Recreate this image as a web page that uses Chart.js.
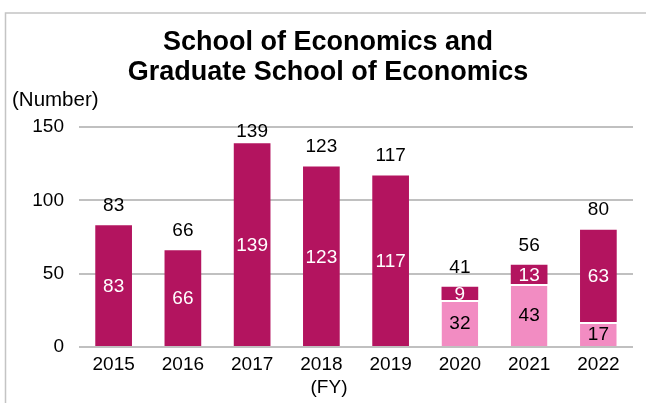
<!DOCTYPE html>
<html>
<head>
<meta charset="utf-8">
<script src="https://cdn.jsdelivr.net/npm/chart.js@4"></script>
<style>
  html, body { margin: 0; padding: 0; background: #ffffff; }
  #wrap { width: 646px; height: 403px; position: relative; }
</style>
</head>
<body>
<div id="wrap"><canvas id="c" width="646" height="403"></canvas></div>
<script>
// ---- data ----
const years = ['2015', '2016', '2017', '2018', '2019', '2020', '2021', '2022'];
const lowerSeries = [0, 0, 0, 0, 0, 32, 43, 17];      // light pink segment
const upperSeries = [83, 66, 139, 123, 117, 9, 13, 63]; // dark magenta segment
const yTicks = [0, 50, 100, 150];
const titleLines = ['School of Economics and', 'Graduate School of Economics'];
const yUnitLabel = '(Number)';
const xUnitLabel = '(FY)';

const FONT = '"Liberation Sans", Arial, Helvetica, sans-serif';
const DARK = '#B3145F';
const LIGHT = '#F28CC2';

const decorPlugin = {
  id: 'decor',
  beforeDraw(chart) {
    const ctx = chart.ctx;
    ctx.save();
    ctx.fillStyle = '#ffffff';
    ctx.fillRect(0, 0, chart.width, chart.height);
    ctx.strokeStyle = '#c4c4c4';
    ctx.lineWidth = 1.5;
    ctx.strokeRect(5.5, 13, 700, 500);
    ctx.restore();
  },
  afterDraw(chart) {
    const ctx = chart.ctx;
    ctx.save();
    ctx.fillStyle = '#000000';
    ctx.textAlign = 'center';
    ctx.textBaseline = 'alphabetic';
    ctx.font = 'bold 27px ' + FONT;
    ctx.fillText(titleLines[0], 328, 50);
    ctx.fillText(titleLines[1], 328, 80);
    ctx.font = '20.5px ' + FONT;
    ctx.textAlign = 'left';
    ctx.fillText(yUnitLabel, 12, 105.5);
    ctx.font = '19px ' + FONT;
    ctx.textAlign = 'center';
    ctx.textBaseline = 'middle';
    ctx.fillText(xUnitLabel, 329, 388);

    // data labels
    const lowMeta = chart.getDatasetMeta(0);
    const upMeta = chart.getDatasetMeta(1);
    const top = chart.chartArea.top;
    ctx.font = '19px ' + FONT;
    ctx.textBaseline = 'middle';
    for (let i = 0; i < years.length; i++) {
      const lo = lowMeta.data[i];
      const up = upMeta.data[i];
      if (lowerSeries[i] > 0) {
        ctx.fillStyle = '#000000';
        ctx.fillText(String(lowerSeries[i]), lo.x, (lo.y + lo.base) / 2 + 1);
      }
      if (upperSeries[i] > 0) {
        ctx.fillStyle = '#ffffff';
        ctx.fillText(String(upperSeries[i]), up.x, (up.y + up.base) / 2 + 1);
      }
      const total = lowerSeries[i] + upperSeries[i];
      ctx.fillStyle = '#000000';
      ctx.fillText(String(total), up.x, Math.max(up.y - 19.5, top + 5));
    }
    ctx.restore();
  }
};

new Chart(document.getElementById('c'), {
  type: 'bar',
  data: {
    labels: years,
    datasets: [
      {
        label: 'lower',
        data: lowerSeries,
        backgroundColor: LIGHT,
        borderColor: '#ffffff',
        borderWidth: { top: 2, left: 0, right: 0, bottom: 0 },
        borderSkipped: false,
        categoryPercentage: 1,
        barPercentage: 0.53
      },
      {
        label: 'upper',
        data: upperSeries,
        backgroundColor: DARK,
        borderColor: '#ffffff',
        borderWidth: 0,
        categoryPercentage: 1,
        barPercentage: 0.53
      }
    ]
  },
  options: {
    responsive: false,
    animation: false,
    devicePixelRatio: 1,
    layout: { padding: { left: 0, right: 13, top: 127, bottom: 0 } },
    plugins: {
      legend: { display: false },
      title: { display: false },
      tooltip: { enabled: false }
    },
    scales: {
      x: {
        stacked: true,
        grid: { display: false, drawTicks: false },
        border: { display: false },
        ticks: {
          color: '#000000',
          font: { family: FONT, size: 19 },
          padding: 6,
          maxRotation: 0
        },
        afterFit(scale) { scale.height = 56; }
      },
      y: {
        stacked: true,
        min: 0,
        max: 150,
        afterBuildTicks(scale) { scale.ticks = yTicks.map(v => ({ value: v })); },
        grid: { color: '#c0c0c0', lineWidth: 2, drawTicks: false },
        border: { display: false },
        ticks: {
          color: '#000000',
          font: { family: FONT, size: 19 },
          padding: 15
        },
        afterFit(scale) { scale.width = 79; }
      }
    }
  },
  plugins: [decorPlugin]
});
</script>
</body>
</html>
